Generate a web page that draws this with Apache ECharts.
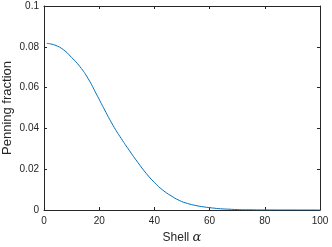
<!DOCTYPE html>
<html><head><meta charset="utf-8">
<script src="https://cdn.jsdelivr.net/npm/echarts@6/dist/echarts.min.js"></script>
<style>html,body{margin:0;padding:0;background:#fff}#c{width:332px;height:247px}</style>
</head><body><div id="c"></div>
<script>
var alphaVals = [1, 4, 7, 10, 13, 16, 19, 22, 25, 28, 31, 34, 37, 40, 43, 46, 49, 52, 55, 58, 61, 64, 67, 70, 75, 80, 90, 100];
var penning = [0.0817, 0.0808, 0.0786, 0.0748, 0.0703, 0.0644, 0.0568, 0.0490, 0.0415, 0.0350, 0.0290, 0.0233, 0.0180, 0.0135, 0.0098, 0.0070, 0.0047, 0.0032, 0.0022, 0.0015, 0.0010, 0.0006, 0.0004, 0.0002, 0.0001, 0.00004, 0.00001, 0];
var xTicks = [0, 20, 40, 60, 80, 100];
var yTicks = [0, 0.02, 0.04, 0.06, 0.08, 0.1];

var axisCol = '#262626';
var font = 'Liberation Sans, Arial, sans-serif';
var data = alphaVals.map(function(a, i){ return [a, penning[i]]; });
var chart = echarts.init(document.getElementById('c'));
function baseAxis(extra){
  var o = {
    type: 'value',
    axisLine: {show: true, onZero: false, lineStyle: {color: axisCol, width: 1}},
    axisTick: {show: true, inside: true, length: 3, lineStyle: {color: axisCol, width: 1}},
    splitLine: {show: false}
  };
  for (var k in extra) o[k] = extra[k];
  return o;
}
chart.setOption({
  animation: false,
  grid: {left: 44, right: 12, top: 6, bottom: 37, containLabel: false, outerBoundsMode: 'none'},
  xAxis: [
    baseAxis({min: xTicks[0], max: xTicks[xTicks.length-1], interval: 20, position: 'bottom',
      axisLabel: {color: axisCol, fontSize: 10, fontFamily: font, margin: 6},
      name: '{n|Shell }{a|α}', nameLocation: 'middle', nameGap: 21, nameMoveOverlap: false,
      nameTextStyle: {rich: {n: {fontSize: 12, color: axisCol, fontFamily: font},
        a: {fontSize: 13, color: axisCol, fontStyle: 'italic', fontFamily: 'DejaVu Serif, serif'}}}}),
    baseAxis({min: xTicks[0], max: xTicks[xTicks.length-1], interval: 20, position: 'top', axisLabel: {show: false}})
  ],
  yAxis: [
    baseAxis({min: yTicks[0], max: yTicks[yTicks.length-1], interval: 0.02, position: 'left',
      axisLabel: {color: axisCol, fontSize: 10, fontFamily: font, margin: 5,
        formatter: function(v){ return v === 0 ? '0' : String(+v.toFixed(2)); }},
      name: 'Penning fraction', nameLocation: 'middle', nameGap: 30, nameMoveOverlap: false,
      nameTextStyle: {fontSize: 13, color: axisCol, fontFamily: font}}),
    baseAxis({min: yTicks[0], max: yTicks[yTicks.length-1], interval: 0.02, position: 'right', axisLabel: {show: false}})
  ],
  series: [{
    type: 'line', data: data, smooth: 0.5, showSymbol: false,
    xAxisIndex: 0, yAxisIndex: 0,
    lineStyle: {color: '#0072BD', width: 1}
  }]
});
</script></body></html>
